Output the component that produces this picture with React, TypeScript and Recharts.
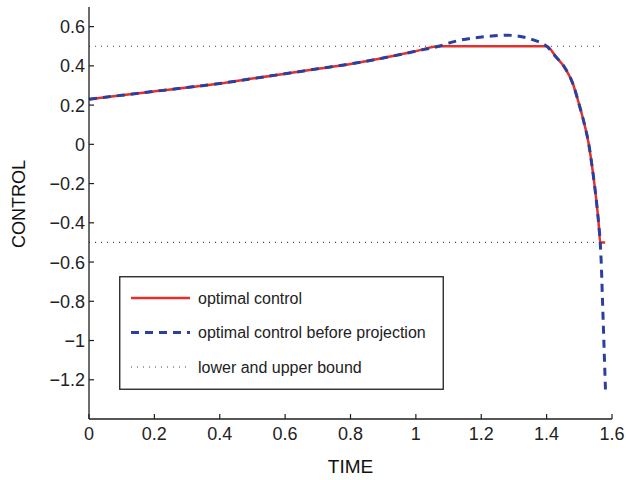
import React from "react";
import { Legend, Line, LineChart, XAxis, YAxis } from "recharts";

// time grid and values
const sharedT = [0, 0.1, 0.2, 0.3, 0.4, 0.5, 0.6, 0.7, 0.8, 0.9, 1.0, 1.07];
const sharedV = [0.23, 0.25, 0.27, 0.29, 0.31, 0.335, 0.36, 0.385, 0.41, 0.44, 0.475, 0.5];

// common descent after the constraint is left
const dropT = [1.429, 1.454, 1.48, 1.5, 1.515, 1.529, 1.538, 1.546, 1.553, 1.559, 1.564];
const dropV = [0.445, 0.395, 0.31, 0.2, 0.107, 0, -0.1, -0.2, -0.3, -0.4, -0.5];

const redT = [1.4, ...dropT, 1.579];
const redV = [0.5, ...dropV, -0.5];

const blueT = [1.12, 1.18, 1.24, 1.28, 1.32, 1.36, 1.4, ...dropT, 1.567, 1.571, 1.575, 1.58];
const blueV = [0.525, 0.543, 0.553, 0.556, 0.55, 0.532, 0.5, ...dropV, -0.6, -0.8, -1.0, -1.25];

const boundT = [0, 1.57];
const upperBound = [0.5, 0.5];
const lowerBound = [-0.5, -0.5];

const xTicks = [0, 0.2, 0.4, 0.6, 0.8, 1, 1.2, 1.4, 1.6];
const yTicks = [-1.2, -1, -0.8, -0.6, -0.4, -0.2, 0, 0.2, 0.4, 0.6];

const RED = "#e3302a";
const BLUE = "#2c3f9e";
const AXIS = "#1e1e1e";
const FONT = "'Liberation Sans', Arial, sans-serif";

const toPoints = (ts: number[], vs: number[]) => ts.map((t, i) => ({ t, v: vs[i] }));

const sharedPts = toPoints(sharedT, sharedV);
const redData = [...sharedPts, ...toPoints(redT, redV)];
const blueData = [...sharedPts, ...toPoints(blueT, blueV)];
const upperData = toPoints(boundT, upperBound);
const lowerData = toPoints(boundT, lowerBound);

const legendItems = [
  { label: "optimal control", color: RED, width: 2.5, dash: undefined },
  { label: "optimal control before projection", color: BLUE, width: 3, dash: "8 6" },
  { label: "lower and upper bound", color: "#444", width: 1.2, dash: "1 5" },
];

const fmt = (v: number) => {
  const s = String(Math.round(v * 10) / 10);
  return s.replace("-", "\u2212");
};

const TICK = 5;
const TICK_FONT = 18;

function LeftTick({ x, y, payload }: any) {
  return (
    <g>
      <line x1={x + 4} x2={x + 4 + TICK} y1={y} y2={y} stroke={AXIS} strokeWidth={1.2} />
      <text x={x} y={y} dy="0.36em" textAnchor="end" fontSize={TICK_FONT} fontFamily={FONT} fill="#222">
        {fmt(payload.value)}
      </text>
    </g>
  );
}

function BottomTick({ x, y, payload }: any) {
  return (
    <g>
      <line x1={x} x2={x} y1={y - TICK} y2={y} stroke={AXIS} strokeWidth={1.2} />
      <text x={x} y={y + 21} textAnchor="middle" fontSize={TICK_FONT} fontFamily={FONT} fill="#222">
        {fmt(payload.value)}
      </text>
    </g>
  );
}

function TopTick({ x, y }: any) {
  return <line x1={x} x2={x} y1={y} y2={y + TICK} stroke={AXIS} strokeWidth={1.2} />;
}

function RightTick({ x, y }: any) {
  return <line x1={x - TICK} x2={x} y1={y} y2={y} stroke={AXIS} strokeWidth={1.2} />;
}

function LegendBox() {
  const w = 325;
  const h = 114;
  return (
    <svg width={w} height={h} style={{ display: "block" }}>
      <rect x={0.75} y={0.75} width={w - 1.5} height={h - 1.5} fill="#fff" stroke={AXIS} strokeWidth={1.3} />
      {legendItems.map((it, i) => {
        const cy = 22 + i * 34.5;
        return (
          <g key={it.label}>
            <line x1={12} x2={71} y1={cy} y2={cy} stroke={it.color} strokeWidth={it.width} strokeDasharray={it.dash} />
            <text x={79} y={cy + 5.5} fontSize={16} fontFamily={FONT} fill="#222">
              {it.label}
            </text>
          </g>
        );
      })}
    </svg>
  );
}

function YLabel({ viewBox }: any) {
  const cx = 25;
  const cy = viewBox.y + viewBox.height / 2 - 9;
  return (
    <text
      x={cx}
      y={cy}
      transform={`rotate(-90 ${cx} ${cy})`}
      textAnchor="middle"
      fontSize={18}
      fontFamily={FONT}
      fill="#111"
    >
      CONTROL
    </text>
  );
}

export default function App() {
  return (
    <div style={{ position: "absolute", left: 0, top: 0, background: "#fff" }}>
      <LineChart width={626} height={480} margin={{ top: 7, right: 14, bottom: 0, left: 0 }}>
        <XAxis
          dataKey="t"
          type="number"
          domain={[0, 1.6]}
          ticks={xTicks}
          height={61}
          tickSize={0}
          tickMargin={0}
          tickLine={false}
          tick={<BottomTick />}
          axisLine={{ stroke: AXIS, strokeWidth: 1.3 }}
          label={{ value: "TIME", position: "insideBottom", offset: 7, fontSize: 19, fontFamily: FONT, fill: "#111" }}
        />
        <XAxis
          xAxisId="top"
          orientation="top"
          dataKey="t"
          type="number"
          domain={[0, 1.6]}
          ticks={xTicks}
          height={0}
          tickSize={0}
          tickMargin={0}
          tickLine={false}
          tick={<TopTick />}
          axisLine={{ stroke: AXIS, strokeWidth: 1.3 }}
        />
        <YAxis
          dataKey="v"
          type="number"
          domain={[-1.4, 0.7]}
          ticks={yTicks}
          width={89}
          tickSize={0}
          tickMargin={4}
          tickLine={false}
          tick={<LeftTick />}
          axisLine={{ stroke: AXIS, strokeWidth: 1.3 }}
          label={<YLabel />}
        />
        <YAxis
          yAxisId="right"
          orientation="right"
          dataKey="v"
          type="number"
          domain={[-1.4, 0.7]}
          ticks={yTicks}
          width={0}
          tickSize={0}
          tickMargin={0}
          tickLine={false}
          tick={<RightTick />}
          axisLine={{ stroke: AXIS, strokeWidth: 1.3 }}
        />
        <Legend
          layout="vertical"
          align="center"
          verticalAlign="middle"
          content={() => <LegendBox />}
          wrapperStyle={{ left: 119, top: 276, width: 325, height: 114 }}
        />
        <Line data={upperData} dataKey="v" type="linear" stroke="#444" strokeWidth={1.2} strokeDasharray="1 5" dot={false} isAnimationActive={false} />
        <Line data={lowerData} dataKey="v" type="linear" stroke="#444" strokeWidth={1.2} strokeDasharray="1 5" dot={false} isAnimationActive={false} />
        <Line data={redData} dataKey="v" type="monotone" stroke={RED} strokeWidth={2.5} dot={false} isAnimationActive={false} />
        <Line data={blueData} dataKey="v" type="monotone" stroke={BLUE} strokeWidth={3} strokeDasharray="8 6" dot={false} isAnimationActive={false} />
      </LineChart>
    </div>
  );
}
